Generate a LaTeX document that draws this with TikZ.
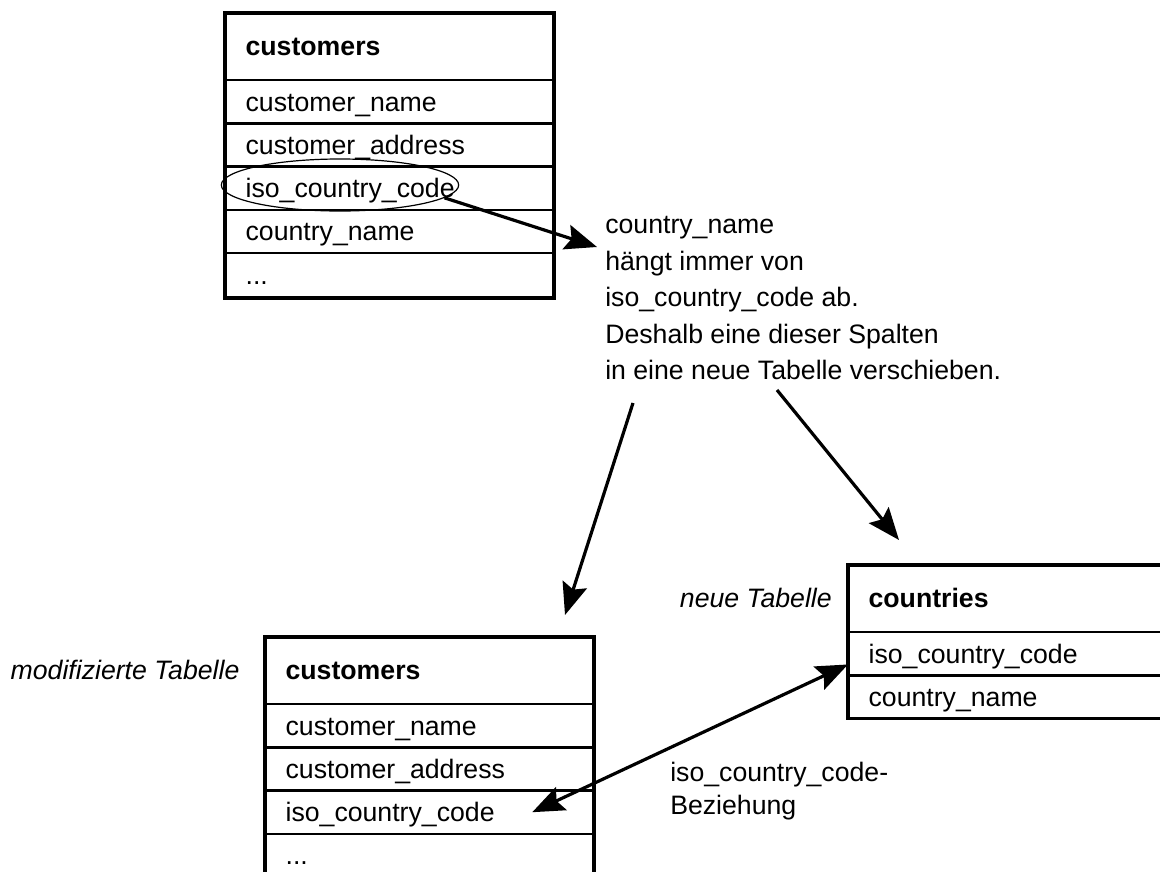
\documentclass[tikz,border=0pt]{standalone}
\usepackage{fontspec}
\setmainfont{Liberation Sans}
\usetikzlibrary{positioning,shapes.geometric,arrows.meta}

\newcommand\tabfont{\fontsize{20pt}{24pt}\selectfont}

\tikzset{
  tabrow/.style={draw,line width=0.9pt,minimum height=31.5pt,text width=216pt,
    inner xsep=15pt,inner ysep=0pt,align=left,text height=15pt,text depth=1pt,font=\tabfont},
  tabhead/.style={tabrow,minimum height=49.5pt,font=\tabfont\bfseries},
  tabframe/.style={line width=2.8pt},
  tablabel/.style={inner sep=0pt,text height=15pt,text depth=1pt,font=\tabfont\itshape},
  note/.style={inner sep=0pt,align=left},
  arr/.style={line width=2.4pt,-{Stealth[length=24pt,width=19pt,inset=4pt]}},
  arrboth/.style={line width=2.4pt,{Stealth[length=24pt,width=19pt,inset=4pt]}-{Stealth[length=24pt,width=19pt,inset=4pt]}}
}

\begin{document}
\begin{tikzpicture}[x=0.75pt,y=-0.75pt]
  \useasboundingbox (0,0) rectangle (1160,871);
  \clip (0,0) rectangle (1160,871);

  % Original table
  \node[tabhead,anchor=north west] (hdrA) at (225,13) {customers};
  \node[tabrow,below=0pt of hdrA] (nameA) {customer\_name};
  \node[tabrow,below=0pt of nameA] (addrA) {customer\_address};
  \node[tabrow,below=0pt of addrA] (isoA) {iso\_country\_code};
  \node[tabrow,below=0pt of isoA] (cnameA) {country\_name};
  \node[tabrow,below=0pt of cnameA,minimum height=33pt] (dotA) {...};
  \draw[tabframe] (hdrA.north west) rectangle (dotA.south east);
  \node[draw,ellipse,line width=0.9pt,inner sep=0pt,minimum width=178pt,minimum height=39pt] (ell) at (340,185) {};

  % Explanation
  \node[note,anchor=north west,font=\fontsize{20pt}{27.4pt}\selectfont] (why) at (605,216)
    {country\_name\\hängt immer von\\iso\_country\_code ab.\\Deshalb eine dieser Spalten\\in eine neue Tabelle verschieben.};
  \coordinate (whyin) at (597,247);
  \coordinate (whyl) at (633,403);
  \coordinate (whyr) at (777,390);
  \coordinate (modin) at (565,615);
  \coordinate (newin) at (899,540);

  % Modified table
  \node[tabhead,anchor=north west] (hdrB) at (265,637) {customers};
  \node[tabrow,below=0pt of hdrB] (nameB) {customer\_name};
  \node[tabrow,below=0pt of nameB] (addrB) {customer\_address};
  \node[tabrow,below=0pt of addrB] (isoB) {iso\_country\_code};
  \node[tabrow,below=0pt of isoB] (dotB) {...};
  \draw[tabframe] (hdrB.north west) rectangle (dotB.south east);
  \node[tablabel,left=19pt of hdrB] (modlab) {modifizierte Tabelle};

  % New table
  \node[tabhead,anchor=north west] (hdrC) at (848,565) {countries};
  \node[tabrow,below=0pt of hdrC] (isoC) {iso\_country\_code};
  \node[tabrow,below=0pt of isoC] (cnameC) {country\_name};
  \draw[tabframe] (hdrC.north west) rectangle (cnameC.south east);
  \node[tablabel,left=12pt of hdrC] (newlab) {neue Tabelle};

  \node[note,anchor=north west,font=\fontsize{20pt}{24.75pt}\selectfont] (rel) at (670,762)
    {iso\_country\_code-\\Beziehung};

  % Arrows
  \draw[arr] (ell.-7) -- (whyin);
  \draw[arr] (whyl) -- (modin);
  \draw[arr] (whyr) -- (newin);
  \draw[arrboth] ([xshift=77pt]isoB.center) -- ([yshift=-8pt]isoC.west);
\end{tikzpicture}
\end{document}
